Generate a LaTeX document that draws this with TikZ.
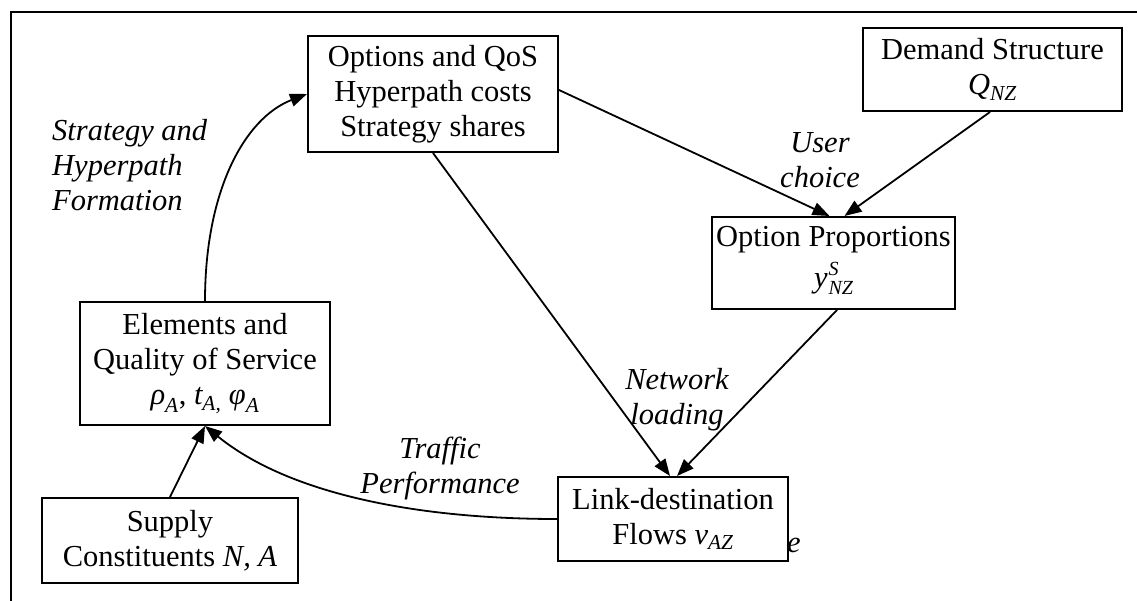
\documentclass[tikz,border=0pt]{standalone}
\usepackage{amsmath}
\usepackage{fontspec}
\setmainfont{Liberation Serif}
\usetikzlibrary{arrows.meta}
\newcommand{\dfont}{\fontsize{30.5}{35}\selectfont}
\newcommand{\ysnz}{\textit{y}\hspace{1pt}\raisebox{-7pt}{\fontsize{20}{19}\selectfont\itshape\begin{tabular}[b]{@{}l@{}}S\\NZ\end{tabular}}}
\begin{document}
\begin{tikzpicture}[x=1pt,y=-1pt,
  box/.style={draw, line width=2pt, fill=white, align=center, inner sep=0pt, font=\dfont},
  lab/.style={font=\dfont\itshape, align=center, inner sep=0pt},
  arr/.style={line width=1.8pt, -{Triangle[length=17pt,width=13pt]}}]
\useasboundingbox (0,0) rectangle (1137,601);
\draw[line width=1.6pt] (11,601) -- (11,12) -- (1137,12);

\node[box, minimum width=250pt, minimum height=116pt] (opt) at (433,94) {Options and QoS\\Hyperpath costs\\Strategy shares};
\node[box, minimum width=259pt, minimum height=83pt] (dem) at (992.5,69.5) {Demand Structure\\$\textit{Q}_{\textit{NZ}}$};
\node[box, minimum width=243pt, minimum height=92pt] (prop) at (833.5,263) {Option Proportions\\[6pt]\ysnz};
\node[box, minimum width=250pt, minimum height=123pt] (elem) at (205,363.5) {Elements and\\Quality of Service\\$\textit{ρ}_{\textit{A}}$, $\textit{t}_{\textit{A,}}$ $\textit{φ}_{\textit{A}}$};
\node[box, minimum width=256pt, minimum height=85pt] (sup) at (170,540.5) {Supply\\Constituents \textit{N, A}};
\node[box, minimum width=230pt, minimum height=84pt] (link) at (673,519) {Link-destination\\Flows $\textit{v}_{\textit{AZ}}$};

\draw[arr] (elem.north) .. controls (205,190) and (245,118) .. (opt.west);
\draw[arr] ([yshift=4pt]opt.east) -- ([xshift=-4pt]prop.north);
\draw[arr] ([xshift=-2.5pt]dem.south) -- ([xshift=11pt]prop.north);
\draw[arr] (opt.south) -- ([xshift=-3pt]link.north);
\draw[arr] ([xshift=3.5pt]prop.south) -- ([xshift=4pt]link.north);
\draw[arr] (sup.north) -- (elem.south);
\draw[arr] (link.west) .. controls (420,519) and (290,495) .. (elem.south);

\node[lab, anchor=west, align=left] (l1) at (52,165) {Strategy and\\Hyperpath\\Formation};
\node[lab] (l2) at (820,160) {User\\choice};
\node[lab] (l3) at (677,400) {Network\\loading};
\node[lab] (l4) at (440,469) {Traffic\\Performance};
\node[lab] (l5) at (794,545) {e};
\end{tikzpicture}
\end{document}
